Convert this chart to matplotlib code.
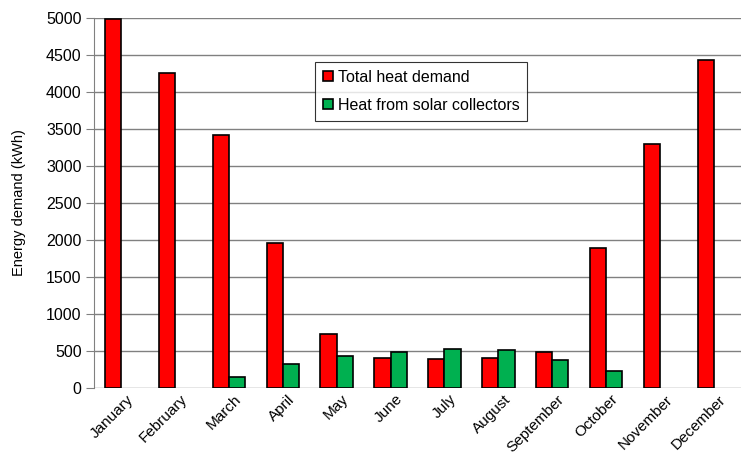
import numpy as np
import matplotlib.pyplot as plt
import matplotlib.transforms as mtransforms

plt.rcParams['font.family'] = ['Liberation Sans', 'DejaVu Sans']

months = ['January', 'February', 'March', 'April', 'May', 'June', 'July',
          'August', 'September', 'October', 'November', 'December']
total_heat = [4980, 4250, 3420, 1960, 730, 400, 390, 410, 480, 1890, 3300, 4430]
solar_heat = [0, 0, 145, 320, 430, 490, 530, 510, 380, 230, 0, 0]

fig = plt.figure(figsize=(7.41, 4.57), dpi=100)
ax = fig.add_axes([94 / 741, 1 - 388 / 457, 647 / 741, 370 / 457])

x = np.arange(len(months))
w = 0.3
ax.bar(x - w / 2, total_heat, w, color='#ff0000', edgecolor='black', linewidth=1.2,
       label='Total heat demand', zorder=3)
solar_plot = [v if v > 0 else np.nan for v in solar_heat]
ax.bar(x + w / 2, solar_plot, w, color='#00b050', edgecolor='black', linewidth=1.2,
       label='Heat from solar collectors', zorder=3)

ax.set_xlim(-0.5, 11.5)
ax.set_ylim(0, 5000)
ax.set_yticks(range(0, 5001, 500))
ax.yaxis.grid(True, color='#808080', linewidth=1)
ax.set_axisbelow(True)
for s in ['top', 'right', 'bottom']:
    ax.spines[s].set_visible(False)
ax.spines['left'].set_color('#808080')
ax.tick_params(axis='y', length=6, color='#808080', labelsize=11.5, pad=3)
ax.tick_params(axis='x', length=0, labelsize=11, pad=3)
ax.set_xticks(x)
ax.set_xticklabels(months, rotation=45, ha='right', rotation_mode='anchor')
offset = mtransforms.ScaledTranslation(5 / 100, 0, fig.dpi_scale_trans)
for lbl in ax.get_xticklabels():
    lbl.set_transform(lbl.get_transform() + offset)
ax.set_ylabel('Energy demand (kWh)', fontsize=10.5, labelpad=14)

leg = ax.legend(loc='upper left', bbox_to_anchor=(0.342, 0.881), borderaxespad=0,
                frameon=True, fancybox=False, edgecolor='black', fontsize=11.5,
                handlelength=0.6, handleheight=0.6, handletextpad=0.3,
                labelspacing=0.8, borderpad=0.5)
leg.get_frame().set_linewidth(0.8)

fig.savefig('out.png', dpi=100)
